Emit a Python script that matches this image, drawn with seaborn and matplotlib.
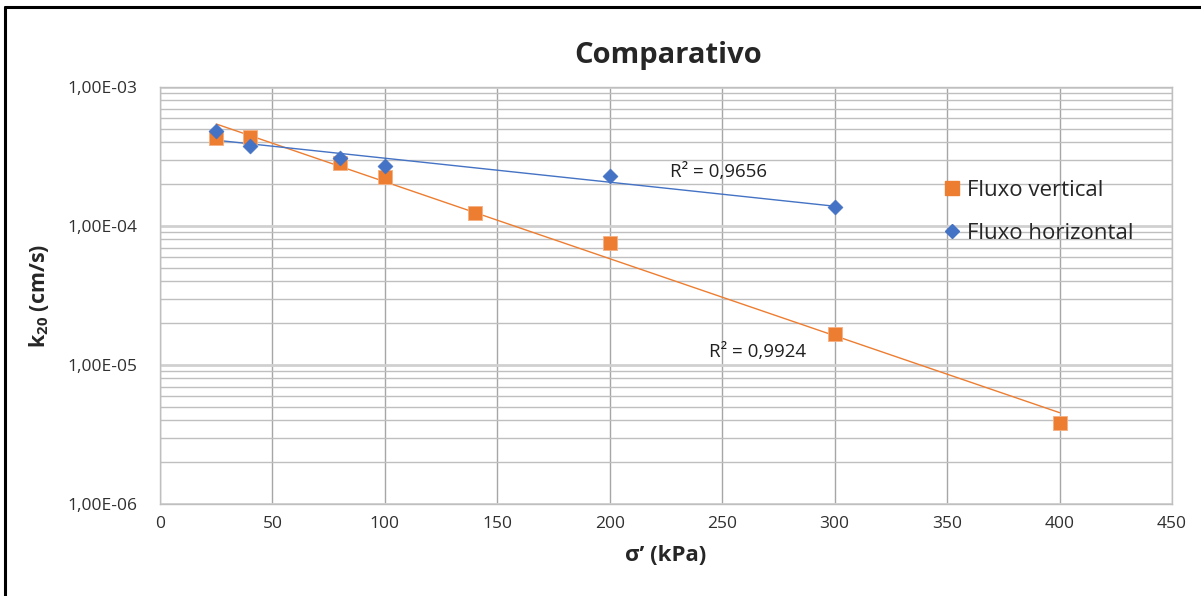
import numpy as np
import pandas as pd
import matplotlib
matplotlib.use("Agg")
import matplotlib.pyplot as plt
import seaborn as sns
from matplotlib.lines import Line2D
from matplotlib.ticker import LogLocator, NullFormatter

# ---- data ----
sigma_vert = [25, 40, 80, 100, 140, 200, 300, 400]
k_vert = [4.30e-4, 4.37e-4, 2.84e-4, 2.25e-4, 1.24e-4, 7.6e-5, 1.67e-5, 3.85e-6]
sigma_hor = [25, 40, 80, 100, 200, 300]
k_hor = [4.82e-4, 3.77e-4, 3.08e-4, 2.70e-4, 2.29e-4, 1.37e-4]
r2_labels = ["R² = 0,9656", "R² = 0,9924"]
x_ticks = [0, 50, 100, 150, 200, 250, 300, 350, 400, 450]
y_ticks = [1e-6, 1e-5, 1e-4, 1e-3]
y_tick_labels = ["1,00E-06", "1,00E-05", "1,00E-04", "1,00E-03"]
series_names = ["Fluxo vertical", "Fluxo horizontal"]
title = "Comparativo"
xlabel = "σ’ (kPa)"
ylabel = r"k$_{\mathbf{20}}$ (cm/s)"

ORANGE = "#ED7D31"
BLUE = "#4472C4"

sns.set_theme(style="white")
plt.rcParams["font.family"] = ["Open Sans", "DejaVu Sans"]
plt.rcParams["mathtext.fontset"] = "custom"
plt.rcParams["mathtext.rm"] = "Open Sans"
plt.rcParams["mathtext.bf"] = "Open Sans:bold"

fig = plt.figure(figsize=(12.01, 5.96), dpi=100)
ax = fig.add_axes([160 / 1201, 1 - 504 / 596, 1012 / 1201, 417 / 596])

df_v = pd.DataFrame({"x": sigma_vert, "k": k_vert})
df_h = pd.DataFrame({"x": sigma_hor, "k": k_hor})

# exponential trendlines (Excel style: fit ln(k) linear in x)
def trend(df):
    b, a = np.polyfit(df["x"], np.log(df["k"]), 1)
    xs = np.linspace(min(df["x"]), max(df["x"]), 50)
    return pd.DataFrame({"x": xs, "k": np.exp(a + b * xs)})

tv = trend(df_v)
th = trend(df_h)
sns.lineplot(data=tv, x="x", y="k", ax=ax, color=ORANGE, lw=1.0, zorder=3)
sns.lineplot(data=th, x="x", y="k", ax=ax, color=BLUE, lw=1.0, zorder=3)

sns.scatterplot(data=df_v, x="x", y="k", ax=ax, marker="s", s=110, color=ORANGE,
                edgecolor="#F4B183", linewidth=0.6, zorder=4)
sns.scatterplot(data=df_h, x="x", y="k", ax=ax, marker="D", s=60, color=BLUE,
                edgecolor=BLUE, linewidth=0.3, zorder=5)

ax.set_yscale("log")
ax.set_xlim(0, 450)
ax.set_ylim(1e-6, 1e-3)
ax.set_xticks(x_ticks)
ax.set_xticklabels([str(v) for v in x_ticks])
ax.set_yticks(y_ticks)
ax.set_yticklabels(y_tick_labels)
ax.yaxis.set_minor_locator(LogLocator(base=10, subs=np.arange(2, 10)))
ax.yaxis.set_minor_formatter(NullFormatter())

ax.grid(False)
ax.grid(axis="x", which="major", color="#A6A6A6", lw=1.0, zorder=0)
ax.grid(axis="y", which="major", color="#D0D0D0", lw=2.0, zorder=0)
ax.grid(axis="y", which="minor", color="#BFBFBF", lw=1.0, zorder=0)
ax.set_axisbelow(True)
for s in ax.spines.values():
    s.set_color("#BFBFBF")
    s.set_linewidth(1.0)
ax.tick_params(axis="both", which="both", length=0, labelsize=12.5, colors="#404040", labelcolor="#303030")
ax.tick_params(axis="x", pad=9)
ax.tick_params(axis="y", pad=16)

ax.set_xlabel(xlabel, fontsize=16, fontweight="bold", labelpad=9)
ax.set_ylabel(ylabel, fontsize=15.5, fontweight="bold", labelpad=12)
fig.text(668 / 1201, 1 - 55 / 596, title, fontsize=21, fontweight="bold",
         ha="center", va="center")

ax.text(227, 2.44e-4, r2_labels[0], fontsize=13.5, ha="left", va="center", color="#202020")
ax.text(244, 1.24e-5, r2_labels[1], fontsize=13.5, ha="left", va="center", color="#202020")

handles = [
    Line2D([], [], ls="none", marker="s", ms=10.5, color=ORANGE, label=series_names[0]),
    Line2D([], [], ls="none", marker="D", ms=7.5, color=BLUE, label=series_names[1]),
]
ax.legend(handles=handles, loc="center left", bbox_to_anchor=(919 / 1201, 1 - 212 / 596),
          bbox_transform=fig.transFigure, frameon=False, fontsize=16,
          handletextpad=0.05, labelspacing=1.0, handlelength=1.2)

# outer frame (top and left edges visible)
fig.add_artist(Line2D([5 / 1201, 1.0], [1 - 7 / 596, 1 - 7 / 596], transform=fig.transFigure,
                      color="black", lw=2.2))
fig.add_artist(Line2D([5 / 1201, 5 / 1201], [0, 1 - 7 / 596], transform=fig.transFigure,
                      color="black", lw=2.2))

fig.savefig("out.png", dpi=100)
